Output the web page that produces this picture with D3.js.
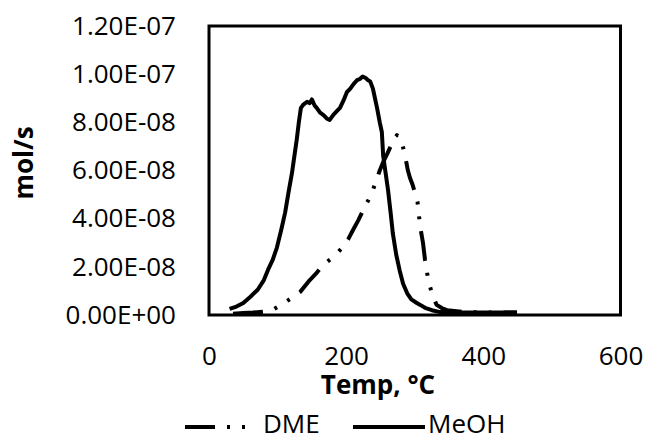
<!DOCTYPE html>
<html lang="en">
<head>
    <meta charset="UTF-8">
    <title>DME / MeOH TPD</title>
    <script src="https://d3js.org/d3.v7.min.js"></script>
    <style>
        body { margin: 0; background: #fff; }
        text { font-family: "Open Sans", "Liberation Sans", sans-serif; fill: #000; }
        .tick text { font-size: 26px; }
        .title { font-size: 26px; font-weight: bold; }
        .legend text { font-size: 26px; }
        .line { fill: none; stroke: #000; stroke-width: 4px; stroke-linejoin: round; }
    </style>
</head>
<body>
    <div id="DV"></div>
    <script>
        // temperatures (°C) and flows (mol/s)
        var meohTemp = [30, 40, 50, 60, 71, 80, 86, 93, 99, 105, 111, 116, 121, 125, 128, 131, 134, 138, 143, 147, 150, 154, 157, 162, 167, 172, 176, 181, 186, 191, 196, 201, 206, 211, 216, 220, 224, 228, 232, 235, 239, 242, 245, 249, 252, 254, 257, 261, 265, 268, 273, 278, 283, 289, 295, 303, 308, 315, 325, 337, 360, 390, 420, 449];
        var meohVal = [2.5e-9, 3.5e-9, 5.0e-9, 7.5e-9, 1.05e-8, 1.45e-8, 1.87e-8, 2.3e-8, 2.8e-8, 3.5e-8, 4.25e-8, 5.1e-8, 5.9e-8, 6.7e-8, 7.3e-8, 8.0e-8, 8.6e-8, 8.75e-8, 8.85e-8, 8.8e-8, 8.95e-8, 8.7e-8, 8.6e-8, 8.4e-8, 8.3e-8, 8.15e-8, 8.1e-8, 8.3e-8, 8.45e-8, 8.6e-8, 8.9e-8, 9.25e-8, 9.4e-8, 9.6e-8, 9.75e-8, 9.8e-8, 9.9e-8, 9.85e-8, 9.75e-8, 9.7e-8, 9.4e-8, 9.0e-8, 8.6e-8, 8.0e-8, 7.6e-8, 6.6e-8, 6.0e-8, 5.2e-8, 4.2e-8, 3.4e-8, 2.5e-8, 1.85e-8, 1.3e-8, 9.0e-9, 6.5e-9, 5.0e-9, 4.2e-9, 3.0e-9, 2.0e-9, 1.2e-9, 1.0e-9, 1.0e-9, 1.0e-9, 1.0e-9];
        var dmeTemp = [35, 50, 64, 84, 95, 104, 118, 133, 147, 157, 166, 174, 181, 188, 195, 203, 210, 218, 225, 232, 239, 244, 249, 254, 260, 264, 268, 271, 274, 278, 281, 286, 290, 293, 297, 301, 304, 308, 312, 315, 319, 322, 325, 329, 332, 340, 347, 370, 400, 430, 449];
        var dmeVal = [5e-10, 8e-10, 1.0e-9, 1.5e-9, 2.5e-9, 4.0e-9, 6.6e-9, 9.6e-9, 1.45e-8, 1.75e-8, 2.08e-8, 2.25e-8, 2.4e-8, 2.6e-8, 2.82e-8, 3.15e-8, 3.53e-8, 3.95e-8, 4.36e-8, 4.75e-8, 5.19e-8, 5.6e-8, 6.0e-8, 6.35e-8, 6.7e-8, 6.95e-8, 7.18e-8, 7.35e-8, 7.47e-8, 7.4e-8, 7.2e-8, 6.6e-8, 6.0e-8, 5.7e-8, 5.4e-8, 5.0e-8, 4.7e-8, 3.65e-8, 3.0e-8, 2.28e-8, 1.58e-8, 1.2e-8, 9.1e-9, 6.0e-9, 4.2e-9, 2.8e-9, 2.0e-9, 1.3e-9, 1.0e-9, 1.0e-9, 1.0e-9];

        var xTicks = [0, 200, 400, 600];
        var yTicks = [0, 2e-8, 4e-8, 6e-8, 8e-8, 1e-7, 1.2e-7];
        var yTickLabels = ["0.00E+00", "2.00E-08", "4.00E-08", "6.00E-08", "8.00E-08", "1.00E-07", "1.20E-07"];
        var seriesNames = ["DME", "MeOH"];

        var W = 646, H = 440;
        var plot = { left: 209, right: 620.5, top: 26, bottom: 315 };

        var xScale = d3.scaleLinear().domain([0, 600]).range([plot.left, plot.right]);
        var yScale = d3.scaleLinear().domain([0, 1.2e-7]).range([plot.bottom, plot.top]);

        var svg = d3.select("#DV").append("svg")
            .attr("width", W)
            .attr("height", H);

        // y axis labels
        svg.append("g")
            .attr("transform", "translate(" + plot.left + ",0)")
            .call(d3.axisLeft(yScale)
                .tickValues(yTicks)
                .tickSize(0)
                .tickPadding(33)
                .tickFormat(function (d, i) { return yTickLabels[i]; }))
            .call(function (g) { g.select(".domain").remove(); })
            .selectAll("text")
            .attr("font-family", null)
            .attr("font-size", null);

        // x axis labels
        svg.append("g")
            .attr("transform", "translate(0," + plot.bottom + ")")
            .call(d3.axisBottom(xScale)
                .tickValues(xTicks)
                .tickSize(0)
                .tickFormat(d3.format("d")))
            .call(function (g) { g.select(".domain").remove(); })
            .selectAll("text")
            .attr("font-family", null)
            .attr("font-size", null)
            .attr("y", 41)
            .attr("dy", "0.35em");

        // frame
        svg.append("rect")
            .attr("x", plot.left)
            .attr("y", plot.top)
            .attr("width", plot.right - plot.left)
            .attr("height", plot.bottom - plot.top)
            .style("fill", "none")
            .style("stroke", "#000")
            .style("stroke-width", 3);

        var line = d3.line()
            .x(function (d) { return xScale(d[0]); })
            .y(function (d) { return yScale(d[1]); });

        var dmeDash = "30,12,3,12,3,12";

        svg.append("path")
            .attr("class", "line")
            .attr("d", line(d3.zip(dmeTemp, dmeVal)))
            .style("stroke-dasharray", dmeDash);

        svg.append("path")
            .attr("class", "line")
            .attr("d", line(d3.zip(meohTemp, meohVal)));

        // axis titles
        svg.append("text")
            .attr("class", "title")
            .attr("x", 378)
            .attr("y", 394)
            .attr("text-anchor", "middle")
            .text("Temp, °C");

        svg.append("text")
            .attr("class", "title")
            .attr("transform", "translate(33,163) rotate(-90)")
            .attr("text-anchor", "middle")
            .text("mol/s");

        // legend
        var legendX = [185, 353];
        var legend = svg.selectAll(".legend")
            .data(seriesNames)
            .enter()
            .append("g")
            .attr("class", "legend")
            .attr("transform", function (d, i) { return "translate(" + legendX[i] + ",427)"; });

        legend.append("line")
            .attr("x1", 0)
            .attr("x2", 72)
            .attr("y1", 0)
            .attr("y2", 0)
            .style("stroke", "#000")
            .style("stroke-width", 4)
            .style("stroke-dasharray", function (d) { return d === "DME" ? dmeDash : null; });

        legend.append("text")
            .attr("x", function (d) { return d === "DME" ? 78 : 75; })
            .attr("y", -3)
            .attr("dy", "0.35em")
            .text(function (d) { return d; });
    </script>
</body>
</html>
